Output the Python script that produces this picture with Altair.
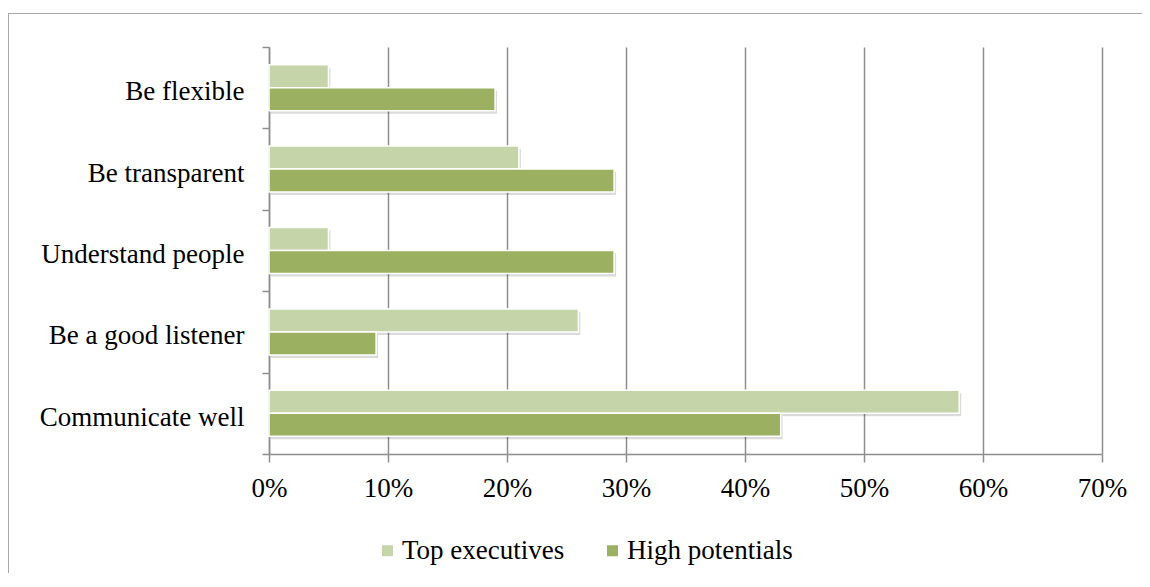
import altair as alt
import pandas as pd

categories = ["Be flexible", "Be transparent", "Understand people",
              "Be a good listener", "Communicate well"]
series = ["Top executives", "High potentials"]
top_executives = [0.05, 0.21, 0.05, 0.26, 0.58]
high_potentials = [0.19, 0.29, 0.29, 0.09, 0.43]
colors = ["#C6D5A9", "#9BB060"]
x_ticks = [0.0, 0.1, 0.2, 0.3, 0.4, 0.5, 0.6, 0.7]

rows = []
for c, a, b in zip(categories, top_executives, high_potentials):
    rows.append({"category": c, "series": series[0], "value": a})
    rows.append({"category": c, "series": series[1], "value": b})
df = pd.DataFrame(rows)

FONT = "Liberation Serif"
GRID = "#8E8E8E"
H = 407
BAND = H / len(categories)

x_enc = alt.X("value:Q",
              scale=alt.Scale(domain=[0, 0.7], nice=False),
              axis=alt.Axis(values=x_ticks, format=".0%", title=None,
                            grid=True, gridColor=GRID, gridWidth=1.5,
                            domainColor=GRID, domainWidth=1.5,
                            tickColor=GRID, tickWidth=1.5, tickSize=8,
                            labelFont=FONT, labelFontSize=27, labelColor="#000000",
                            labelPadding=13, labelFlush=False, labelOverlap=False))
y_enc = alt.Y("category:N", sort=categories,
              scale=alt.Scale(paddingInner=0, paddingOuter=0),
              axis=alt.Axis(title=None, tickBand="extent", grid=False,
                            domainColor=GRID, domainWidth=1.5,
                            tickColor=GRID, tickWidth=1.5, tickSize=7,
                            labelFont=FONT, labelFontSize=27, labelColor="#000000",
                            labelPadding=18, labelLimit=400, labelOffset=4))

shadow = alt.Chart(df).mark_bar(color="#000000", opacity=0.14, xOffset=2).encode(
    x=x_enc, y=y_enc,
    yOffset=alt.YOffset("series:N", sort=series,
                        scale=alt.Scale(paddingInner=0, paddingOuter=0.77, align=0.5,
                                        range=[3, BAND + 3])))

bars = alt.Chart(df).mark_bar(stroke="white", strokeWidth=1.5).encode(
    x=x_enc, y=y_enc,
    yOffset=alt.YOffset("series:N", sort=series,
                        scale=alt.Scale(paddingInner=0, paddingOuter=0.77, align=0.5)),
    color=alt.Color("series:N", sort=series,
                    scale=alt.Scale(domain=series, range=colors),
                    legend=alt.Legend(title=None, orient="none", legendX=105, legendY=490,
                                      direction="horizontal", symbolType="square",
                                      symbolSize=121, symbolStrokeWidth=0,
                                      labelFont=FONT, labelFontSize=27,
                                      labelColor="#000000", labelOffset=1,
                                      labelLimit=400, columnPadding=34)),
)

frame_df = pd.DataFrame({"k": [0]})
frame_left = alt.Chart(frame_df).mark_rule(color="#A8A8A8", strokeWidth=1).encode(
    x=alt.value(-260.5), y=alt.value(-34), y2=alt.value(560))
frame_top = alt.Chart(frame_df).mark_rule(color="#A8A8A8", strokeWidth=1).encode(
    x=alt.value(-260.5), x2=alt.value(900), y=alt.value(-33.5))

chart = alt.layer(frame_left, frame_top, shadow, bars).resolve_scale(
    yOffset="independent"
).properties(
    width=833, height=H,
    autosize=alt.AutoSizeParams(type="none"),
    padding={"left": 261, "top": 39, "right": 40, "bottom": 119},
).configure_view(stroke=None)

chart.save("out.html", embed_options={"renderer": "svg", "actions": False})
